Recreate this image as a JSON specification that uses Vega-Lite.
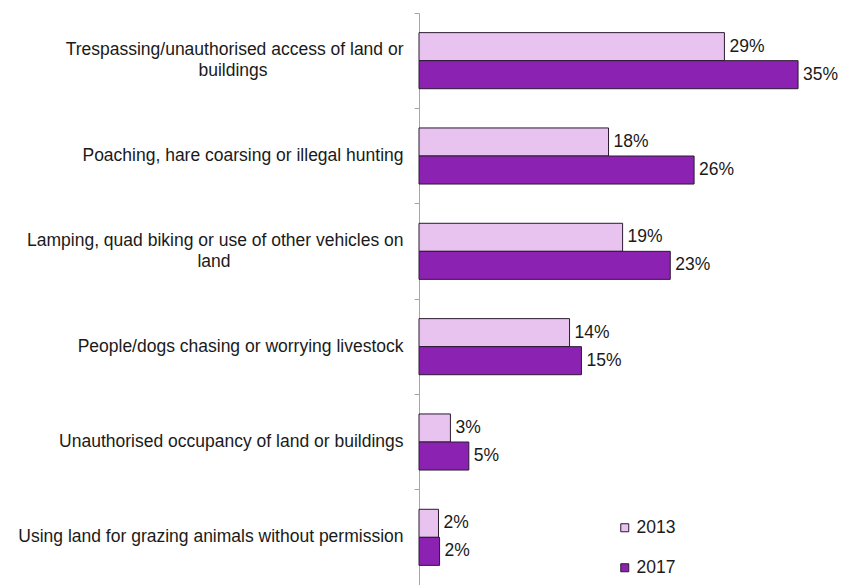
{
  "$schema": "https://vega.github.io/schema/vega-lite/v6.json",
  "width": 424,
  "height": 572,
  "autosize": {"type": "none"},
  "padding": {"left": 419, "top": 13, "right": 0, "bottom": 0},
  "background": "white",
  "config": {"view": {"stroke": null}, "font": "Liberation Sans"},
  "data": {
    "values": [
      {"category": "Trespassing/unauthorised access of land or buildings", "year": "2013", "value": 28.2, "label": "29%"},
      {"category": "Trespassing/unauthorised access of land or buildings", "year": "2017", "value": 35.0, "label": "35%"},
      {"category": "Poaching, hare coarsing or illegal hunting", "year": "2013", "value": 17.5, "label": "18%"},
      {"category": "Poaching, hare coarsing or illegal hunting", "year": "2017", "value": 25.4, "label": "26%"},
      {"category": "Lamping, quad biking or use of other vehicles on land", "year": "2013", "value": 18.8, "label": "19%"},
      {"category": "Lamping, quad biking or use of other vehicles on land", "year": "2017", "value": 23.2, "label": "23%"},
      {"category": "People/dogs chasing or worrying livestock", "year": "2013", "value": 13.9, "label": "14%"},
      {"category": "People/dogs chasing or worrying livestock", "year": "2017", "value": 15.0, "label": "15%"},
      {"category": "Unauthorised occupancy of land or buildings", "year": "2013", "value": 2.9, "label": "3%"},
      {"category": "Unauthorised occupancy of land or buildings", "year": "2017", "value": 4.6, "label": "5%"},
      {"category": "Using land for grazing animals without permission", "year": "2013", "value": 1.8, "label": "2%"},
      {"category": "Using land for grazing animals without permission", "year": "2017", "value": 1.9, "label": "2%"}
    ]
  },
  "layer": [
    {
      "mark": {"type": "bar", "stroke": "#2b1a30", "strokeWidth": 1},
      "encoding": {
        "y": {
          "field": "category",
          "type": "nominal",
          "sort": null,
          "scale": {"paddingInner": 0, "paddingOuter": 0},
          "axis": {
            "title": null,
            "bandPosition": 0,
            "domainColor": "#a6a6a6",
            "tickColor": "#a6a6a6",
            "tickSize": 5,
            "labelPadding": 11,
            "labelFontSize": 17.5,
            "labelColor": "#1a1a1a",
            "labelLimit": 500,
            "labelAlign": "right",
            "labelOffset": {"condition": {"test": "indexof(datum.value,'Trespassing')==0 || indexof(datum.value,'Lamping')==0", "value": -10.5}, "value": 0},
            "labelExpr": "indexof(datum.label,'Trespassing')==0 ? 'Trespassing/unauthorised access of land or' : indexof(datum.label,'Lamping')==0 ? 'Lamping, quad biking or use of other vehicles on' : datum.label"
          }
        },
        "yOffset": {"field": "year", "type": "nominal", "scale": {"paddingOuter": 0.7, "paddingInner": 0}},
        "x": {"field": "value", "type": "quantitative", "scale": {"domain": [0, 39.15], "nice": false}, "axis": null},
        "color": {
          "field": "year",
          "type": "nominal",
          "scale": {"domain": ["2013", "2017"], "range": ["#E8C3F0", "#8C22B1"]},
          "legend": {
            "title": null,
            "orient": "none",
            "legendX": 197,
            "legendY": 506,
            "symbolType": "square",
            "symbolSize": 64,
            "symbolStrokeColor": "#2b1a30",
            "symbolStrokeWidth": 1,
            "labelFontSize": 17.5,
            "labelColor": "#1a1a1a",
            "labelOffset": 3,
            "rowPadding": 21
          }
        }
      }
    },
    {
      "mark": {"type": "text", "align": "left", "baseline": "middle", "dx": 5, "fontSize": 17.5, "color": "#1a1a1a"},
      "encoding": {
        "y": {"field": "category", "type": "nominal", "sort": null},
        "yOffset": {"field": "year", "type": "nominal"},
        "x": {"field": "value", "type": "quantitative"},
        "text": {"field": "label"}
      }
    },
    {
      "transform": [{"filter": "indexof(datum.category,'Trespassing')==0 && datum.year=='2013'"}],
      "mark": {"type": "text", "align": "center", "baseline": "middle", "dx": -186, "dy": 10.5, "fontSize": 17.5, "color": "#1a1a1a", "text": "buildings"},
      "encoding": {
        "y": {"field": "category", "type": "nominal", "sort": null},
        "x": {"datum": 0}
      }
    },
    {
      "transform": [{"filter": "indexof(datum.category,'Lamping')==0 && datum.year=='2013'"}],
      "mark": {"type": "text", "align": "center", "baseline": "middle", "dx": -205, "dy": 10.5, "fontSize": 17.5, "color": "#1a1a1a", "text": "land"},
      "encoding": {
        "y": {"field": "category", "type": "nominal", "sort": null},
        "x": {"datum": 0}
      }
    }
  ]
}
